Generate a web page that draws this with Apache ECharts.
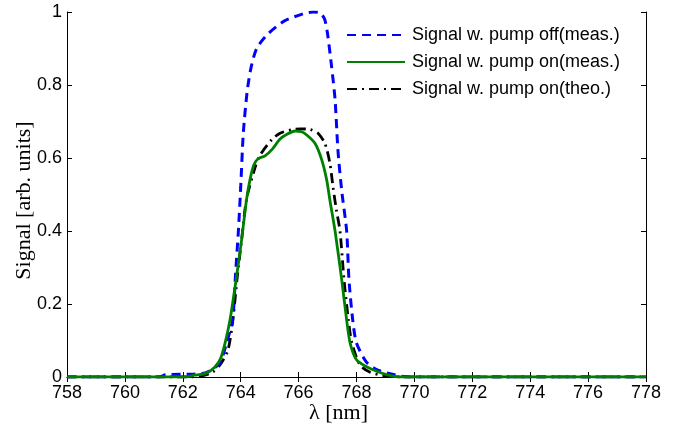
<!DOCTYPE html>
<html><head><meta charset="utf-8">
<script src="https://cdn.jsdelivr.net/npm/echarts@6/dist/echarts.min.js"></script>
<style>html,body{margin:0;padding:0;background:#fff}#c{width:690px;height:433px}</style>
</head><body><div id="c"></div>
<script>
const seriesNames = ['Signal w. pump off(meas.)', 'Signal w. pump on(meas.)', 'Signal w. pump on(theo.)'];
const xTicks = [758, 760, 762, 764, 766, 768, 770, 772, 774, 776, 778];
const yTicks = [0, 0.2, 0.4, 0.6, 0.8, 1];

const pumpOffMeas = [[758,0],[761.2,0],[761.4,0.006],[762.4,0.008],[762.8,0.012],[763.1,0.025],[763.3,0.04],[763.5,0.09],[763.72,0.156],[763.82,0.28],[763.92,0.40],[764.0,0.52],[764.09,0.668],[764.22,0.78],[764.35,0.845],[764.55,0.9],[764.94,0.94],[765.5,0.975],[766.15,0.995],[766.5,1.0],[766.75,0.997],[766.9,0.98],[767.0,0.94],[767.14,0.85],[767.26,0.76],[767.36,0.62],[767.49,0.51],[767.66,0.40],[767.74,0.266],[767.87,0.156],[768.0,0.093],[768.35,0.04],[768.7,0.02],[769.2,0.008],[769.8,0],[778,0]];
const pumpOnMeas = [[758,0],[762.0,0],[762.4,0.005],[762.8,0.01],[763.1,0.027],[763.3,0.05],[763.46,0.093],[763.63,0.156],[763.84,0.266],[764.03,0.375],[764.2,0.485],[764.32,0.54],[764.45,0.58],[764.6,0.598],[764.84,0.606],[765.1,0.625],[765.36,0.652],[765.6,0.665],[765.88,0.674],[766.1,0.672],[766.28,0.663],[766.57,0.64],[766.8,0.595],[766.97,0.54],[767.08,0.485],[767.26,0.40],[767.49,0.266],[767.66,0.156],[767.78,0.093],[768.0,0.047],[768.3,0.03],[768.57,0.02],[769.1,0.005],[769.5,0],[778,0]];
const pumpOnTheo = [[758,0],[762.3,0],[762.7,0.004],[763.04,0.014],[763.3,0.035],[763.56,0.074],[763.73,0.156],[763.87,0.266],[764.03,0.375],[764.2,0.487],[764.5,0.575],[764.67,0.608],[765.07,0.65],[765.36,0.668],[765.8,0.678],[766.05,0.68],[766.4,0.678],[766.67,0.668],[766.91,0.64],[767.08,0.586],[767.19,0.52],[767.3,0.46],[767.43,0.40],[767.57,0.266],[767.72,0.156],[767.84,0.093],[768.12,0.033],[768.47,0.013],[769.0,0.003],[769.5,0],[778,0]];

const font = '"Liberation Sans", Arial, sans-serif';
const serif = '"Liberation Serif", "Times New Roman", serif';
const chart = echarts.init(document.getElementById('c'), null, {renderer: 'canvas'});
const axLine = {show: true, lineStyle: {color: '#000', width: 1}};
const tick = {show: true, inside: true, length: 5, lineStyle: {color: '#000'}};
chart.setOption({
  animation: false,
  backgroundColor: '#fff',
  grid: {left: 67, right: 44, top: 12, bottom: 56, containLabel: false},
  legend: {
    orient: 'vertical', left: 341, top: 21, itemWidth: 58, itemHeight: 14, itemGap: 9,
    itemStyle: {opacity: 0},
    textStyle: {fontFamily: font, fontSize: 18, color: '#000', padding: [0,0,0,2]},
    data: seriesNames
  },
  xAxis: [{
    type: 'value', min: 758, max: 778, interval: 2,
    name: 'λ [nm]', nameLocation: 'middle', nameGap: 25, nameMoveOverlap: false,
    nameTextStyle: {fontFamily: serif, fontSize: 22, color: '#000', padding: [0, 36, 0, 0]},
    axisLine: axLine, axisTick: tick,
    axisLabel: {fontFamily: font, fontSize: 18, color: '#000', margin: 7},
    splitLine: {show: false}
  }, {
    type: 'value', min: 758, max: 778, interval: 2, position: 'top',
    axisLine: axLine, axisTick: tick, axisLabel: {show: false}, splitLine: {show: false}
  }],
  yAxis: [{
    type: 'value', min: 0, max: 1, interval: 0.2,
    name: 'Signal [arb. units]', nameLocation: 'middle', nameGap: 32, nameRotate: 90, nameMoveOverlap: false,
    nameTextStyle: {fontFamily: serif, fontSize: 22, color: '#000', padding: [0, 12, 0, 0]},
    axisLine: axLine, axisTick: tick,
    axisLabel: {fontFamily: font, fontSize: 18, color: '#000', margin: 5,
      formatter: v => String(Math.round(v*10)/10)},
    splitLine: {show: false}
  }, {
    type: 'value', min: 0, max: 1, interval: 0.2, position: 'right',
    axisLine: axLine, axisTick: tick, axisLabel: {show: false}, splitLine: {show: false}
  }],
  series: [
    {name: seriesNames[0], type: 'line', data: pumpOffMeas, showSymbol: false, symbol: 'none', smooth: 0.25,
     lineStyle: {color: '#0000ff', width: 3, type: [9, 6]}, itemStyle: {color: '#0000ff'}, z: 3},
    {name: seriesNames[1], type: 'line', data: pumpOnMeas, showSymbol: false, symbol: 'none', smooth: 0.25,
     lineStyle: {color: '#008000', width: 2.8}, itemStyle: {color: '#008000'}, z: 4},
    {name: seriesNames[2], type: 'line', data: pumpOnTheo, showSymbol: false, symbol: 'none', smooth: 0.25,
     lineStyle: {color: '#000', width: 2.8, type: [10, 5, 2, 5]}, itemStyle: {color: '#000'}, z: 2}
  ]
});
</script></body></html>
